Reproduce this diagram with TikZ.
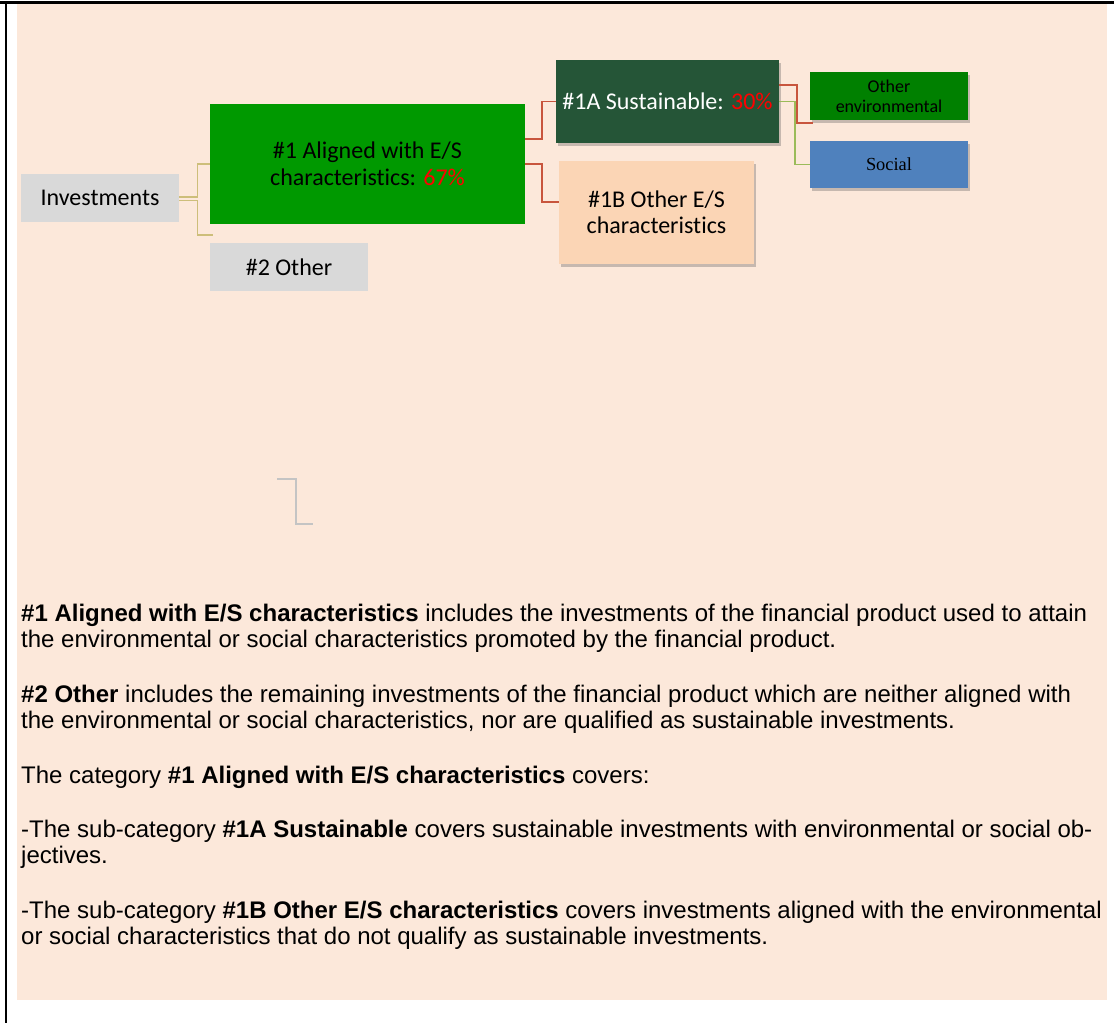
\documentclass[tikz,border=0pt]{standalone}
\usepackage{fontspec}
\setmainfont{Liberation Sans}
\newfontfamily\calfont[Ligatures=NoCommon]{Carlito}
\newfontfamily\timesfont{Liberation Serif}
\usetikzlibrary{shadows}
\definecolor{bgpeach}{HTML}{FCE8DA}
\definecolor{boxgray}{HTML}{D9D9D9}
\definecolor{mygreen}{HTML}{009900}
\definecolor{darkgreen}{HTML}{255537}
\definecolor{peachbox}{HTML}{FBD5B5}
\definecolor{envgreen}{HTML}{008000}
\definecolor{socblue}{HTML}{4F81BD}
\definecolor{redline}{HTML}{C8553D}
\definecolor{greenline}{HTML}{9BBB59}
\definecolor{tanline}{HTML}{CDBE7A}
\definecolor{pctred}{HTML}{FF0000}
\definecolor{strayline}{HTML}{C4C4C4}
\tikzset{
  box/.style={rectangle, inner sep=0pt, align=center, text=black,
    font=\calfont\fontsize{24}{27}\selectfont},
  shadowed/.style={drop shadow={shadow xshift=2pt, shadow yshift=-3pt, opacity=0.3, fill=black!70}},
  tanconn/.style={draw=tanline, line width=1.3pt},
  redconn/.style={draw=redline, line width=1.8pt},
  greenconn/.style={draw=greenline, line width=1.8pt},
  para/.style={anchor=base west, inner sep=0pt, font=\fontsize{24}{26}\selectfont, text=black}
}
\begin{document}
\begin{tikzpicture}[x=1pt,y=-1pt]
\useasboundingbox (0,0) rectangle (1114,1023);
\fill[white] (0,0) rectangle (1114,1023);
\fill[bgpeach] (17,4) rectangle (1107,1000);
\draw[black, line width=2.5pt] (0,2.5) -- (1114,2.5);
\draw[black, line width=2pt] (6,2.5) -- (6,1023);

% nodes
\node[box, fill=boxgray, minimum width=158pt, minimum height=48pt] (inv) at (100,198) {Investments};
\node[box, fill=mygreen, minimum width=315pt, minimum height=120pt] (n1) at (367.5,164)
  {\#1 Aligned with E/S\\characteristics: \textcolor{pctred}{67\%}};
\node[box, fill=boxgray, minimum width=158pt, minimum height=48pt] (n2) at (289,267) {\#2 Other};
\node[box, shadowed, fill=darkgreen, text=white, minimum width=223pt, minimum height=83pt] (n1a) at (667.5,101.5)
  {\#1A Sustainable: \textcolor{pctred}{30\%}};
\node[box, shadowed, fill=peachbox, minimum width=195pt, minimum height=103pt, font=\calfont\fontsize{24}{26.5}\selectfont] (n1b) at (656.5,212.5)
  {\#1B Other E/S\\characteristics};
\node[box, shadowed, fill=envgreen, minimum width=158pt, minimum height=48pt, font=\calfont\fontsize{18}{20}\selectfont] (oenv) at (889,96)
  {Other\\environmental};
\node[box, shadowed, fill=socblue, minimum width=158pt, minimum height=47pt, font=\timesfont\fontsize{18.4}{20}\selectfont] (soc) at (889,164.5)
  {Social};

% connectors
\coordinate (n2stub) at (213,235);
\coordinate (oenvstub) at (813,123);
\draw[tanconn] ([yshift=1pt]inv.east) -- ++(18,0) |- (n1.west);
\draw[tanconn] ([yshift=-2.5pt]inv.east) -- ++(18,0) |- (n2stub);
\draw[redconn] ([yshift=25pt]n1.east) -- ++(17,0) |- (n1a.west);
\draw[redconn] (n1.east) -- ++(17,0) |- ([yshift=10.5pt]n1b.west);
\draw[redconn] ([yshift=16.5pt]n1a.east) -- ++(18,0) |- (oenvstub);
\draw[greenconn] (n1a.east) -- ++(16,0) |- (soc.west);

% stray mark
\draw[strayline, line width=2pt] (277,479) -- (296,479) -- (296,524) -- (313,524);

% text
\node[para] (p1) at (21,621) {\textbf{\#1 Aligned with E/S characteristics} includes the investments of the financial product used to attain};
\node[para] (p2) at (21,647) {the environmental or social characteristics promoted by the financial product.};
\node[para] (p3) at (21,702) {\textbf{\#2 Other} includes the remaining investments of the financial product which are neither aligned with};
\node[para] (p4) at (21,728) {the environmental or social characteristics, nor are qualified as sustainable investments.};
\node[para] (p5) at (21,783) {The category \textbf{\#1 Aligned with E/S characteristics} covers:};
\node[para] (p6) at (21,837) {-The sub-category \textbf{\#1A Sustainable} covers sustainable investments with environmental or social ob-};
\node[para] (p7) at (21,863) {jectives.};
\node[para] (p8) at (21,918) {-The sub-category \textbf{\#1B Other E/S characteristics} covers investments aligned with the environmental};
\node[para] (p9) at (21,944) {or social characteristics that do not qualify as sustainable investments.};
\end{tikzpicture}
\end{document}
